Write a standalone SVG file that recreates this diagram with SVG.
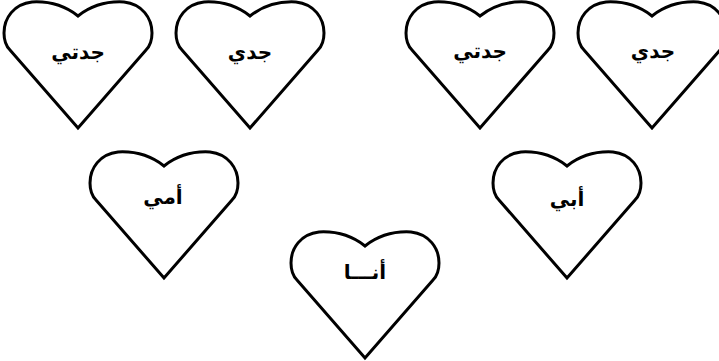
<svg xmlns="http://www.w3.org/2000/svg" xmlns:xlink="http://www.w3.org/1999/xlink" width="719" height="361" viewBox="0 0 719 361">
<style>
.h{fill:#fff;stroke:#000;stroke-width:3;stroke-linejoin:miter}
.t{font-family:"DejaVu Sans","Liberation Sans",sans-serif;font-weight:bold;font-size:20px;text-anchor:middle;fill:#000}
</style>
<defs>
<path id="heart" d="M0,14 C-14,3 -28,-1 -46,0 C-64,2 -74,16 -74,31 C-74,39 -72,44 -68,48 L0,126 L68,48 C72,44 74,39 74,31 C74,16 64,2 46,0 C28,-1 14,3 0,14 Z"/>
</defs>
<rect width="719" height="361" fill="#fff"/>
<g id="connectors"/>
<g id="n1"><use xlink:href="#heart" href="#heart" class="h" transform="translate(78,2)"/><text class="t" x="78" y="59" direction="rtl">جدتي</text></g>
<g id="n2"><use xlink:href="#heart" href="#heart" class="h" transform="translate(250,2)"/><text class="t" x="250" y="59" direction="rtl">جدي</text></g>
<g id="n3"><use xlink:href="#heart" href="#heart" class="h" transform="translate(480,2)"/><text class="t" x="480" y="58" direction="rtl">جدتي</text></g>
<g id="n4"><use xlink:href="#heart" href="#heart" class="h" transform="translate(652,2)"/><text class="t" x="653" y="58" direction="rtl">جدي</text></g>
<g id="n5"><use xlink:href="#heart" href="#heart" class="h" transform="translate(164,152)"/><text class="t" x="163" y="204" direction="rtl">أمي</text></g>
<g id="n6"><use xlink:href="#heart" href="#heart" class="h" transform="translate(567,152)"/><text class="t" x="567" y="206" direction="rtl">أبي</text></g>
<g id="n7"><use xlink:href="#heart" href="#heart" class="h" transform="translate(365,232)"/><text class="t" x="365" y="279" direction="rtl">أنـــا</text></g>
</svg>
